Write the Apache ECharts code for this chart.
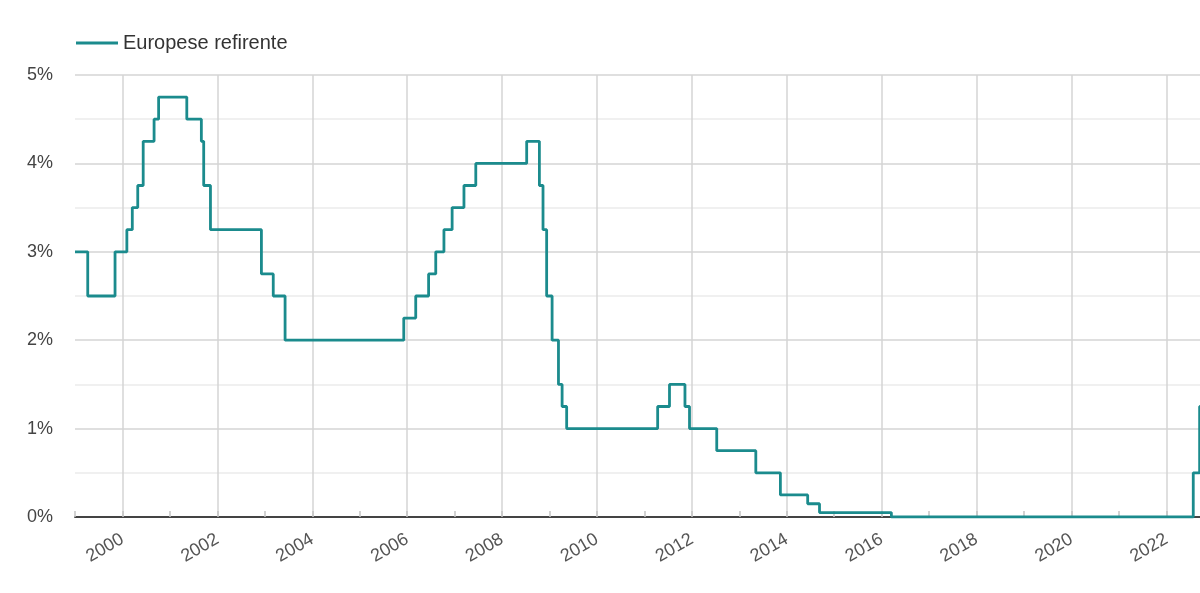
<!DOCTYPE html>
<html>
<head>
<meta charset="utf-8">
<script src="https://cdn.jsdelivr.net/npm/echarts@6/dist/echarts.min.js"></script>
<style>
html,body{margin:0;padding:0;background:#fff;}
#chart{width:1200px;height:593px;}
</style>
</head>
<body>
<div id="chart"></div>
<script>
// ECB main refinancing rate (change dates and new rate, %)
const seriesName = 'Europese refirente';
const rateDates = ['1999-01-01','1999-04-09','1999-11-05','2000-02-04','2000-03-17','2000-04-28','2000-06-09','2000-09-01','2000-10-06','2001-05-11','2001-08-31','2001-09-18','2001-11-09','2002-12-06','2003-03-07','2003-06-06','2005-12-06','2006-03-08','2006-06-15','2006-08-09','2006-10-11','2006-12-13','2007-03-14','2007-06-13','2008-07-09','2008-10-15','2008-11-12','2008-12-10','2009-01-21','2009-03-11','2009-04-08','2009-05-13','2011-04-13','2011-07-13','2011-11-09','2011-12-14','2012-07-11','2013-05-08','2013-11-13','2014-06-11','2014-09-10','2016-03-16','2022-07-27','2022-09-14','2022-11-02'];
const rateValues = [3.0,2.5,3.0,3.25,3.5,3.75,4.25,4.5,4.75,4.5,4.25,3.75,3.25,2.75,2.5,2.0,2.25,2.5,2.75,3.0,3.25,3.5,3.75,4.0,4.25,3.75,3.25,2.5,2.0,1.5,1.25,1.0,1.25,1.5,1.25,1.0,0.75,0.5,0.25,0.15,0.05,0.0,0.5,1.25,2.0];
const yearMin = 1999;
const yearMax = 2024;
const lastLabelYear = 2022;
const yTicks = [0,1,2,3,4,5];

function toYear(s){
  const p = s.split('-').map(Number);
  const start = Date.UTC(p[0],0,1), end = Date.UTC(p[0]+1,0,1);
  return p[0] + (Date.UTC(p[0],p[1]-1,p[2]) - start) / (end - start);
}
const data = rateDates.map((d,i) => [toYear(d), rateValues[i]]);

const FONT = "'Liberation Sans', Arial, sans-serif";
const pxPerYear = 47.45;
const chart = echarts.init(document.getElementById('chart'), null, {renderer:'canvas'});
chart.setOption({
  animation:false,
  backgroundColor:'#fff',
  textStyle:{fontFamily:FONT},
  legend:{
    data:[{name:seriesName, icon:'rect'}], left:71, top:28, itemWidth:42, itemHeight:3, itemGap:10,
    textStyle:{fontSize:20, color:'#333', fontFamily:FONT, padding:[0,0,0,0]}
  },
  grid:{left:75, top:75, width:pxPerYear*(yearMax-yearMin), height:442, containLabel:false, outerBoundsMode:'none'},
  xAxis:[{
    type:'value', min:yearMin, max:yearMax, interval:1, position:'bottom',
    axisLine:{show:true, lineStyle:{color:'#444', width:2}},
    axisTick:{show:true, inside:true, length:6, lineStyle:{color:'#c4c4c4', width:1.5}},
    axisLabel:{show:false}, splitLine:{show:false}
  },{
    type:'value', min:yearMin, max:yearMax, splitNumber:12, minInterval:2, maxInterval:2, position:'bottom',
    axisLine:{show:false}, axisTick:{show:false},
    axisLabel:{
      show:true, rotate:30, margin:21, fontSize:18, color:'#555', fontFamily:FONT,
      formatter:function(v){ return (Number.isInteger(v) && v % 2 === 0 && v <= lastLabelYear) ? String(v) : ''; }
    },
    splitLine:{show:true, showMinLine:false, showMaxLine:false, lineStyle:{color:'#d4d4d4', width:1.5}}
  }],
  yAxis:{
    type:'value', min:yTicks[0], max:yTicks[yTicks.length-1], interval:1,
    axisLine:{show:false}, axisTick:{show:false},
    axisLabel:{formatter:'{value}%', fontSize:18, color:'#444', margin:22, fontFamily:FONT},
    splitLine:{show:true, lineStyle:{color:'#d4d4d4', width:1.5}},
    minorTick:{show:false, splitNumber:2},
    minorSplitLine:{show:true, lineStyle:{color:'#ececec', width:1.5}}
  },
  series:[{
    name:seriesName, type:'line', step:'end', symbol:'none', xAxisIndex:0,
    lineStyle:{color:'#1b8b8d', width:2.8}, itemStyle:{color:'#1b8b8d'},
    data:data, z:5
  }]
});
</script>
</body>
</html>
